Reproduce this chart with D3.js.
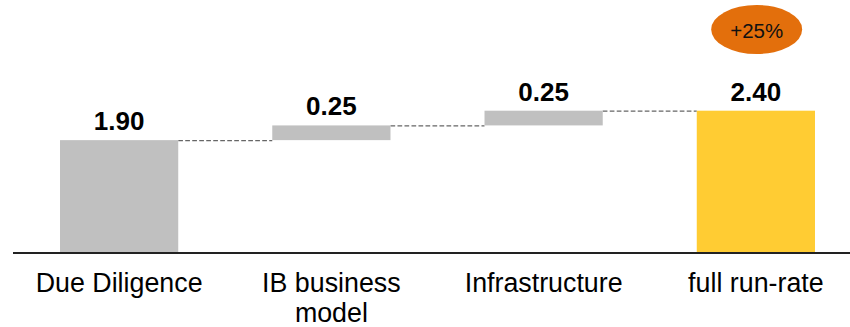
<!DOCTYPE html>
<html>
<head>
<meta charset="utf-8">
<script src="https://cdn.jsdelivr.net/npm/d3@7"></script>
<style>
  html, body { margin: 0; padding: 0; background: #fff; }
  svg { display: block; font-family: "Liberation Sans", Arial, sans-serif; }
</style>
</head>
<body>
<svg id="chart" width="850" height="327"></svg>
<script>
// ---- data ----
const categories = ["Due Diligence", "IB business model", "Infrastructure", "full run-rate"];
const values = [1.90, 0.25, 0.25, 2.40];
const barTypes = ["total", "delta", "delta", "total"];
const valueLabels = ["1.90", "0.25", "0.25", "2.40"];
const badgeLabel = "+25%";

// ---- layout ----
const W = 850, H = 327;
const baseline = 252;
const svg = d3.select("#chart");

// cumulative waterfall positions
let running = 0;
const bars = categories.map((c, i) => {
  let start, end;
  if (barTypes[i] === "total") { start = 0; end = values[i]; running = values[i]; }
  else { start = running; end = running + values[i]; running = end; }
  return { cat: c, start, end, type: barTypes[i], label: valueLabels[i], i };
});

const x = d3.scaleBand().domain(categories).range([13, 862]).paddingInner(0.443).paddingOuter(0.2215);
const y = d3.scaleLinear().domain([0, 2.40]).range([baseline, 110.7]);

const colors = { total: "#C0C0C0", delta: "#C0C0C0", final: "#FFCC33" };

// connectors
for (let i = 0; i < bars.length - 1; i++) {
  const lvl = bars[i].end;
  svg.append("line")
    .attr("x1", x(bars[i].cat) + x.bandwidth())
    .attr("x2", x(bars[i + 1].cat))
    .attr("y1", y(lvl) + 0.5)
    .attr("y2", y(lvl) + 0.5)
    .attr("stroke", "#666")
    .attr("stroke-width", 1.3)
    .attr("stroke-dasharray", "4.7,2.3");
}

// bars
svg.selectAll("rect.bar").data(bars).enter().append("rect")
  .attr("class", "bar")
  .attr("x", d => x(d.cat))
  .attr("width", x.bandwidth())
  .attr("y", d => y(Math.max(d.start, d.end)))
  .attr("height", d => Math.abs(y(d.start) - y(d.end)))
  .attr("fill", (d, i) => i === bars.length - 1 ? colors.final : colors[d.type]);

// value labels
svg.selectAll("text.val").data(bars).enter().append("text")
  .attr("class", "val")
  .attr("x", d => x(d.cat) + x.bandwidth() / 2)
  .attr("y", d => y(Math.max(d.start, d.end)) - 10)
  .attr("text-anchor", "middle")
  .attr("font-weight", "bold")
  .attr("font-size", 26)
  .attr("fill", "#000")
  .text(d => d.label);

// axis line
svg.append("line")
  .attr("x1", 13).attr("x2", W)
  .attr("y1", baseline + 1).attr("y2", baseline + 1)
  .attr("stroke", "#222").attr("stroke-width", 2);

// category labels with wrapping
const catText = svg.selectAll("text.cat").data(bars).enter().append("text")
  .attr("class", "cat")
  .attr("x", d => x(d.cat) + x.bandwidth() / 2)
  .attr("y", 291.5)
  .attr("text-anchor", "middle")
  .attr("font-size", 26.8)
  .attr("fill", "#000");

catText.each(function (d) {
  const t = d3.select(this);
  const words = d.cat.split(" ");
  const maxW = x.step() * 0.95;
  let line = [];
  let tspan = t.append("tspan").attr("x", t.attr("x")).attr("dy", 0);
  words.forEach(w => {
    line.push(w);
    tspan.text(line.join(" "));
    if (tspan.node().getComputedTextLength() > maxW && line.length > 1) {
      line.pop();
      tspan.text(line.join(" "));
      line = [w];
      tspan = t.append("tspan").attr("x", t.attr("x")).attr("dy", 30).text(w);
    }
  });
});

// badge
const last = bars[bars.length - 1];
const bx = x(last.cat) + x.bandwidth() / 2 + 0.8;
svg.append("ellipse")
  .attr("cx", bx).attr("cy", 29.5)
  .attr("rx", 45.5).attr("ry", 24.5)
  .attr("fill", "#E36F0C");
svg.append("text")
  .attr("x", bx).attr("y", 38.3)
  .attr("text-anchor", "middle")
  .attr("font-size", 20.5)
  .attr("fill", "#111")
  .text(badgeLabel);
</script>
</body>
</html>
